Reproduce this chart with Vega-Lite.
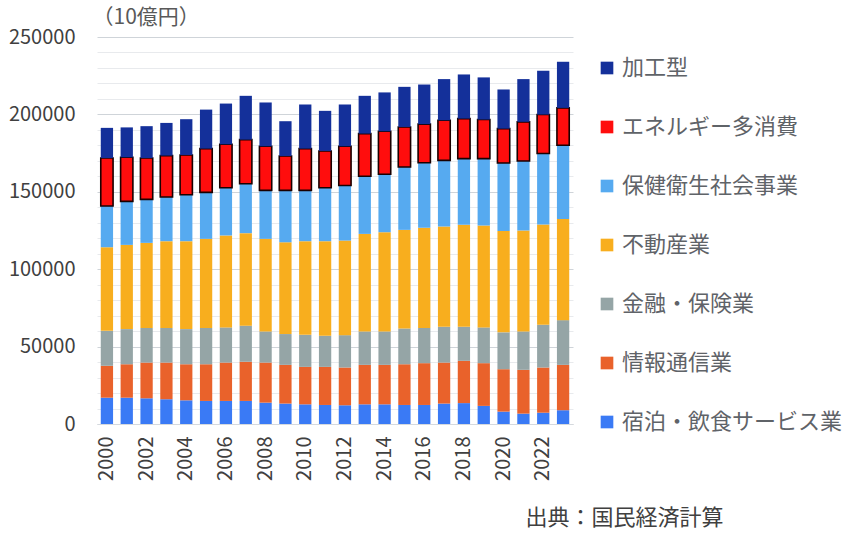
{
  "$schema": "https://vega.github.io/schema/vega-lite/v6.json",
  "width": 476,
  "height": 387,
  "autosize": "none",
  "padding": {"left": 97, "top": 37, "right": 277, "bottom": 109},
  "background": "white",
  "datasets": {
    "gdp": [
      {"year": 2000, "cat": "宿泊・飲食サービス業", "n": 1, "v": 17000},
      {"year": 2000, "cat": "情報通信業", "n": 2, "v": 20600},
      {"year": 2000, "cat": "金融・保険業", "n": 3, "v": 22600},
      {"year": 2000, "cat": "不動産業", "n": 4, "v": 54000},
      {"year": 2000, "cat": "保健衛生社会事業", "n": 5, "v": 26600},
      {"year": 2000, "cat": "エネルギー多消費", "n": 6, "v": 31000},
      {"year": 2000, "cat": "加工型", "n": 7, "v": 19500},
      {"year": 2001, "cat": "宿泊・飲食サービス業", "n": 1, "v": 17000},
      {"year": 2001, "cat": "情報通信業", "n": 2, "v": 21600},
      {"year": 2001, "cat": "金融・保険業", "n": 3, "v": 22700},
      {"year": 2001, "cat": "不動産業", "n": 4, "v": 54400},
      {"year": 2001, "cat": "保健衛生社会事業", "n": 5, "v": 28100},
      {"year": 2001, "cat": "エネルギー多消費", "n": 6, "v": 28500},
      {"year": 2001, "cat": "加工型", "n": 7, "v": 19300},
      {"year": 2002, "cat": "宿泊・飲食サービス業", "n": 1, "v": 16600},
      {"year": 2002, "cat": "情報通信業", "n": 2, "v": 23100},
      {"year": 2002, "cat": "金融・保険業", "n": 3, "v": 22300},
      {"year": 2002, "cat": "不動産業", "n": 4, "v": 55000},
      {"year": 2002, "cat": "保健衛生社会事業", "n": 5, "v": 28100},
      {"year": 2002, "cat": "エネルギー多消費", "n": 6, "v": 26700},
      {"year": 2002, "cat": "加工型", "n": 7, "v": 20600},
      {"year": 2003, "cat": "宿泊・飲食サービス業", "n": 1, "v": 16000},
      {"year": 2003, "cat": "情報通信業", "n": 2, "v": 23700},
      {"year": 2003, "cat": "金融・保険業", "n": 3, "v": 22300},
      {"year": 2003, "cat": "不動産業", "n": 4, "v": 56100},
      {"year": 2003, "cat": "保健衛生社会事業", "n": 5, "v": 28500},
      {"year": 2003, "cat": "エネルギー多消費", "n": 6, "v": 26800},
      {"year": 2003, "cat": "加工型", "n": 7, "v": 21100},
      {"year": 2004, "cat": "宿泊・飲食サービス業", "n": 1, "v": 15300},
      {"year": 2004, "cat": "情報通信業", "n": 2, "v": 23300},
      {"year": 2004, "cat": "金融・保険業", "n": 3, "v": 22700},
      {"year": 2004, "cat": "不動産業", "n": 4, "v": 56800},
      {"year": 2004, "cat": "保健衛生社会事業", "n": 5, "v": 30000},
      {"year": 2004, "cat": "エネルギー多消費", "n": 6, "v": 25700},
      {"year": 2004, "cat": "加工型", "n": 7, "v": 23100},
      {"year": 2005, "cat": "宿泊・飲食サービス業", "n": 1, "v": 14900},
      {"year": 2005, "cat": "情報通信業", "n": 2, "v": 23700},
      {"year": 2005, "cat": "金融・保険業", "n": 3, "v": 23400},
      {"year": 2005, "cat": "不動産業", "n": 4, "v": 57600},
      {"year": 2005, "cat": "保健衛生社会事業", "n": 5, "v": 30000},
      {"year": 2005, "cat": "エネルギー多消費", "n": 6, "v": 28300},
      {"year": 2005, "cat": "加工型", "n": 7, "v": 25200},
      {"year": 2006, "cat": "宿泊・飲食サービス業", "n": 1, "v": 14900},
      {"year": 2006, "cat": "情報通信業", "n": 2, "v": 24800},
      {"year": 2006, "cat": "金融・保険業", "n": 3, "v": 22700},
      {"year": 2006, "cat": "不動産業", "n": 4, "v": 59400},
      {"year": 2006, "cat": "保健衛生社会事業", "n": 5, "v": 30800},
      {"year": 2006, "cat": "エネルギー多消費", "n": 6, "v": 28100},
      {"year": 2006, "cat": "加工型", "n": 7, "v": 26300},
      {"year": 2007, "cat": "宿泊・飲食サービス業", "n": 1, "v": 14900},
      {"year": 2007, "cat": "情報通信業", "n": 2, "v": 25300},
      {"year": 2007, "cat": "金融・保険業", "n": 3, "v": 23300},
      {"year": 2007, "cat": "不動産業", "n": 4, "v": 59800},
      {"year": 2007, "cat": "保健衛生社会事業", "n": 5, "v": 31900},
      {"year": 2007, "cat": "エネルギー多消費", "n": 6, "v": 28500},
      {"year": 2007, "cat": "加工型", "n": 7, "v": 28300},
      {"year": 2008, "cat": "宿泊・飲食サービス業", "n": 1, "v": 13800},
      {"year": 2008, "cat": "情報通信業", "n": 2, "v": 25900},
      {"year": 2008, "cat": "金融・保険業", "n": 3, "v": 20100},
      {"year": 2008, "cat": "不動産業", "n": 4, "v": 59800},
      {"year": 2008, "cat": "保健衛生社会事業", "n": 5, "v": 31300},
      {"year": 2008, "cat": "エネルギー多消費", "n": 6, "v": 28500},
      {"year": 2008, "cat": "加工型", "n": 7, "v": 28300},
      {"year": 2009, "cat": "宿泊・飲食サービス業", "n": 1, "v": 13200},
      {"year": 2009, "cat": "情報通信業", "n": 2, "v": 25000},
      {"year": 2009, "cat": "金融・保険業", "n": 3, "v": 19900},
      {"year": 2009, "cat": "不動産業", "n": 4, "v": 59300},
      {"year": 2009, "cat": "保健衛生社会事業", "n": 5, "v": 33500},
      {"year": 2009, "cat": "エネルギー多消費", "n": 6, "v": 22200},
      {"year": 2009, "cat": "加工型", "n": 7, "v": 22500},
      {"year": 2010, "cat": "宿泊・飲食サービス業", "n": 1, "v": 12700},
      {"year": 2010, "cat": "情報通信業", "n": 2, "v": 24200},
      {"year": 2010, "cat": "金融・保険業", "n": 3, "v": 20700},
      {"year": 2010, "cat": "不動産業", "n": 4, "v": 60500},
      {"year": 2010, "cat": "保健衛生社会事業", "n": 5, "v": 32800},
      {"year": 2010, "cat": "エネルギー多消費", "n": 6, "v": 27000},
      {"year": 2010, "cat": "加工型", "n": 7, "v": 28500},
      {"year": 2011, "cat": "宿泊・飲食サービス業", "n": 1, "v": 12300},
      {"year": 2011, "cat": "情報通信業", "n": 2, "v": 24600},
      {"year": 2011, "cat": "金融・保険業", "n": 3, "v": 20100},
      {"year": 2011, "cat": "不動産業", "n": 4, "v": 61100},
      {"year": 2011, "cat": "保健衛生社会事業", "n": 5, "v": 34500},
      {"year": 2011, "cat": "エネルギー多消費", "n": 6, "v": 23800},
      {"year": 2011, "cat": "加工型", "n": 7, "v": 25900},
      {"year": 2012, "cat": "宿泊・飲食サービス業", "n": 1, "v": 12100},
      {"year": 2012, "cat": "情報通信業", "n": 2, "v": 24400},
      {"year": 2012, "cat": "金融・保険業", "n": 3, "v": 20900},
      {"year": 2012, "cat": "不動産業", "n": 4, "v": 61100},
      {"year": 2012, "cat": "保健衛生社会事業", "n": 5, "v": 35600},
      {"year": 2012, "cat": "エネルギー多消費", "n": 6, "v": 25300},
      {"year": 2012, "cat": "加工型", "n": 7, "v": 27000},
      {"year": 2013, "cat": "宿泊・飲食サービス業", "n": 1, "v": 12700},
      {"year": 2013, "cat": "情報通信業", "n": 2, "v": 25500},
      {"year": 2013, "cat": "金融・保険業", "n": 3, "v": 21600},
      {"year": 2013, "cat": "不動産業", "n": 4, "v": 63000},
      {"year": 2013, "cat": "保健衛生社会事業", "n": 5, "v": 37200},
      {"year": 2013, "cat": "エネルギー多消費", "n": 6, "v": 27600},
      {"year": 2013, "cat": "加工型", "n": 7, "v": 24400},
      {"year": 2014, "cat": "宿泊・飲食サービス業", "n": 1, "v": 12700},
      {"year": 2014, "cat": "情報通信業", "n": 2, "v": 25500},
      {"year": 2014, "cat": "金融・保険業", "n": 3, "v": 21600},
      {"year": 2014, "cat": "不動産業", "n": 4, "v": 64100},
      {"year": 2014, "cat": "保健衛生社会事業", "n": 5, "v": 37400},
      {"year": 2014, "cat": "エネルギー多消費", "n": 6, "v": 27800},
      {"year": 2014, "cat": "加工型", "n": 7, "v": 25100},
      {"year": 2015, "cat": "宿泊・飲食サービス業", "n": 1, "v": 12300},
      {"year": 2015, "cat": "情報通信業", "n": 2, "v": 26300},
      {"year": 2015, "cat": "金融・保険業", "n": 3, "v": 23100},
      {"year": 2015, "cat": "不動産業", "n": 4, "v": 63700},
      {"year": 2015, "cat": "保健衛生社会事業", "n": 5, "v": 40600},
      {"year": 2015, "cat": "エネルギー多消費", "n": 6, "v": 25900},
      {"year": 2015, "cat": "加工型", "n": 7, "v": 25900},
      {"year": 2016, "cat": "宿泊・飲食サービス業", "n": 1, "v": 12300},
      {"year": 2016, "cat": "情報通信業", "n": 2, "v": 27000},
      {"year": 2016, "cat": "金融・保険業", "n": 3, "v": 22700},
      {"year": 2016, "cat": "不動産業", "n": 4, "v": 64700},
      {"year": 2016, "cat": "保健衛生社会事業", "n": 5, "v": 42100},
      {"year": 2016, "cat": "エネルギー多消費", "n": 6, "v": 24900},
      {"year": 2016, "cat": "加工型", "n": 7, "v": 25600},
      {"year": 2017, "cat": "宿泊・飲食サービス業", "n": 1, "v": 13200},
      {"year": 2017, "cat": "情報通信業", "n": 2, "v": 26500},
      {"year": 2017, "cat": "金融・保険業", "n": 3, "v": 23100},
      {"year": 2017, "cat": "不動産業", "n": 4, "v": 64800},
      {"year": 2017, "cat": "保健衛生社会事業", "n": 5, "v": 42700},
      {"year": 2017, "cat": "エネルギー多消費", "n": 6, "v": 25900},
      {"year": 2017, "cat": "加工型", "n": 7, "v": 26600},
      {"year": 2018, "cat": "宿泊・飲食サービス業", "n": 1, "v": 13500},
      {"year": 2018, "cat": "情報通信業", "n": 2, "v": 27300},
      {"year": 2018, "cat": "金融・保険業", "n": 3, "v": 22000},
      {"year": 2018, "cat": "不動産業", "n": 4, "v": 65900},
      {"year": 2018, "cat": "保健衛生社会事業", "n": 5, "v": 42700},
      {"year": 2018, "cat": "エネルギー多消費", "n": 6, "v": 25900},
      {"year": 2018, "cat": "加工型", "n": 7, "v": 28500},
      {"year": 2019, "cat": "宿泊・飲食サービス業", "n": 1, "v": 11700},
      {"year": 2019, "cat": "情報通信業", "n": 2, "v": 27600},
      {"year": 2019, "cat": "金融・保険業", "n": 3, "v": 23100},
      {"year": 2019, "cat": "不動産業", "n": 4, "v": 65800},
      {"year": 2019, "cat": "保健衛生社会事業", "n": 5, "v": 43200},
      {"year": 2019, "cat": "エネルギー多消費", "n": 6, "v": 25300},
      {"year": 2019, "cat": "加工型", "n": 7, "v": 27200},
      {"year": 2020, "cat": "宿泊・飲食サービス業", "n": 1, "v": 8000},
      {"year": 2020, "cat": "情報通信業", "n": 2, "v": 27400},
      {"year": 2020, "cat": "金融・保険業", "n": 3, "v": 23800},
      {"year": 2020, "cat": "不動産業", "n": 4, "v": 65400},
      {"year": 2020, "cat": "保健衛生社会事業", "n": 5, "v": 44000},
      {"year": 2020, "cat": "エネルギー多消費", "n": 6, "v": 22200},
      {"year": 2020, "cat": "加工型", "n": 7, "v": 25300},
      {"year": 2021, "cat": "宿泊・飲食サービス業", "n": 1, "v": 6700},
      {"year": 2021, "cat": "情報通信業", "n": 2, "v": 28300},
      {"year": 2021, "cat": "金融・保険業", "n": 3, "v": 24800},
      {"year": 2021, "cat": "不動産業", "n": 4, "v": 65200},
      {"year": 2021, "cat": "保健衛生社会事業", "n": 5, "v": 44900},
      {"year": 2021, "cat": "エネルギー多消費", "n": 6, "v": 25300},
      {"year": 2021, "cat": "加工型", "n": 7, "v": 27600},
      {"year": 2022, "cat": "宿泊・飲食サービス業", "n": 1, "v": 7300},
      {"year": 2022, "cat": "情報通信業", "n": 2, "v": 29200},
      {"year": 2022, "cat": "金融・保険業", "n": 3, "v": 27600},
      {"year": 2022, "cat": "不動産業", "n": 4, "v": 64800},
      {"year": 2022, "cat": "保健衛生社会事業", "n": 5, "v": 45800},
      {"year": 2022, "cat": "エネルギー多消費", "n": 6, "v": 25200},
      {"year": 2022, "cat": "加工型", "n": 7, "v": 28300},
      {"year": 2023, "cat": "宿泊・飲食サービス業", "n": 1, "v": 8900},
      {"year": 2023, "cat": "情報通信業", "n": 2, "v": 29300},
      {"year": 2023, "cat": "金融・保険業", "n": 3, "v": 28900},
      {"year": 2023, "cat": "不動産業", "n": 4, "v": 65400},
      {"year": 2023, "cat": "保健衛生社会事業", "n": 5, "v": 47600},
      {"year": 2023, "cat": "エネルギー多消費", "n": 6, "v": 24100},
      {"year": 2023, "cat": "加工型", "n": 7, "v": 29800}
    ]
  },
  "data": {"name": "gdp"},
  "mark": {"type": "bar", "stroke": "#1a0000"},
  "encoding": {
    "x": {
      "field": "year",
      "type": "ordinal",
      "scale": {"paddingInner": 0.38, "paddingOuter": 0.19},
      "axis": {
        "values": [2000, 2002, 2004, 2006, 2008, 2010, 2012, 2014, 2016, 2018, 2020, 2022],
        "labelAngle": -90,
        "labelPadding": 12,
        "labelFontSize": 20,
        "ticks": false,
        "domainColor": "#d5d9de",
        "title": "出典：国民経済計算",
        "titleX": 428,
        "titleY": 93,
        "titleAlign": "left",
        "titleBaseline": "middle",
        "titleFontSize": 22,
        "titleFontWeight": "normal",
        "titleColor": "#404040"
      }
    },
    "y": {
      "field": "v",
      "type": "quantitative",
      "stack": "zero",
      "scale": {"domain": [0, 250000], "nice": false},
      "axis": {
        "values": [0, 10000, 20000, 30000, 40000, 50000, 60000, 70000, 80000, 90000, 100000, 110000, 120000, 130000, 140000, 150000, 160000, 170000, 180000, 190000, 200000, 210000, 220000, 230000, 240000, 250000],
        "format": "d",
        "labelExpr": "datum.value % 50000 === 0 ? datum.label : ''",
        "labelFontSize": 20,
        "domain": false,
        "ticks": false,
        "labelPadding": 22,
        "gridColor": {"condition": {"test": "datum.value % 50000 === 0", "value": "#cfd4d9"}, "value": "#e8eaed"},
        "title": "（10億円）",
        "titleAngle": 0,
        "titleX": -5,
        "titleY": -20,
        "titleAlign": "left",
        "titleBaseline": "middle",
        "titleFontSize": 21,
        "titleFontWeight": "normal",
        "titleColor": "#595959"
      }
    },
    "color": {
      "field": "cat",
      "type": "nominal",
      "scale": {
        "domain": ["加工型", "エネルギー多消費", "保健衛生社会事業", "不動産業", "金融・保険業", "情報通信業", "宿泊・飲食サービス業"],
        "range": ["#14309a", "#ff0d0d", "#56aaf0", "#f8ae1e", "#95a5a6", "#e9622b", "#3a7af5"]
      },
      "legend": {
        "title": null,
        "orient": "none",
        "legendX": 499,
        "legendY": 20,
        "symbolType": "square",
        "symbolSize": 160,
        "symbolStrokeWidth": 0,
        "labelFontSize": 22,
        "labelColor": "#5f6368",
        "labelOffset": 4,
        "labelLimit": 400,
        "rowPadding": 37,
        "encode": {
          "symbols": {
            "update": {
              "stroke": {"signal": "datum.value === 'エネルギー多消費' ? '#1a0000' : 'transparent'"},
              "strokeWidth": {"signal": "datum.value === 'エネルギー多消費' ? 1.5 : 0"}
            }
          }
        }
      }
    },
    "order": {"field": "n", "type": "quantitative", "sort": "ascending"},
    "strokeWidth": {
      "condition": {"test": "datum.cat === 'エネルギー多消費'", "value": 1.6},
      "value": 0
    }
  },
  "config": {
    "font": "Noto Sans CJK JP",
    "view": {"stroke": null},
    "axis": {
      "labelFont": "Noto Sans CJK JP",
      "labelFontSize": 17,
      "labelColor": "#404040",
      "titleFont": "Noto Sans CJK JP"
    },
    "legend": {"labelFont": "Noto Sans CJK JP"}
  }
}
